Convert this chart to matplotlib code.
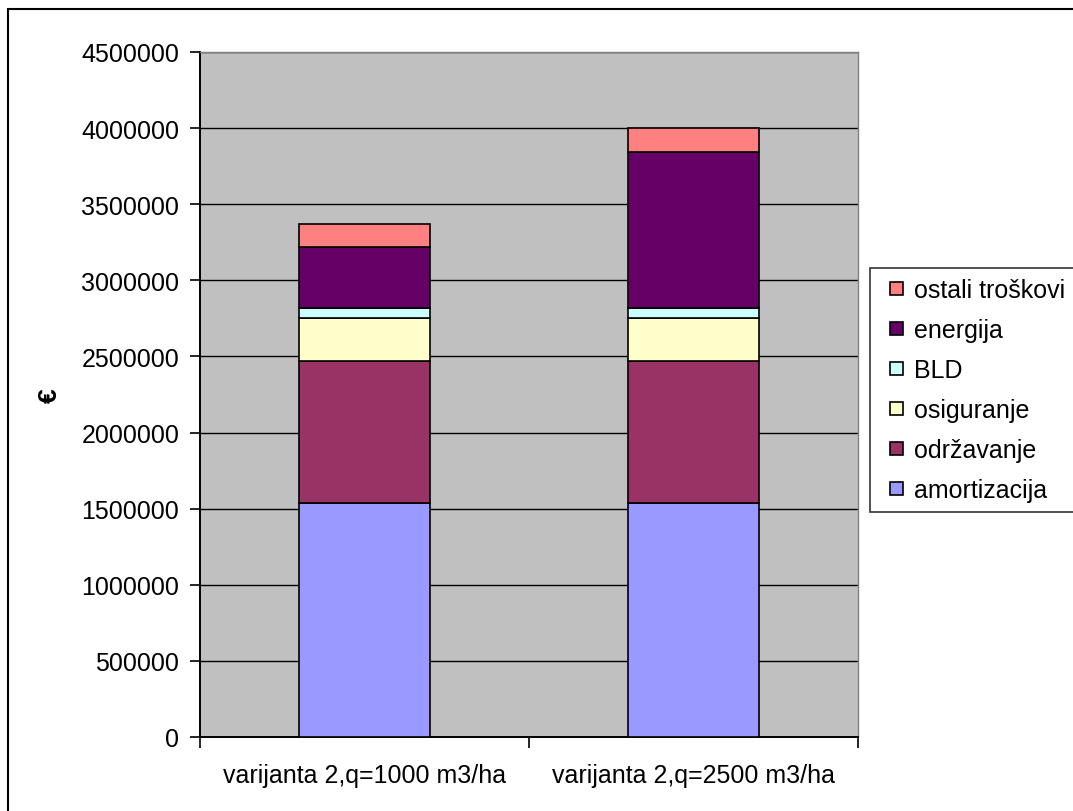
import numpy as np
import matplotlib.pyplot as plt
from matplotlib.patches import Rectangle
from matplotlib.legend_handler import HandlerPatch

plt.rcParams['font.family'] = ['Liberation Sans', 'DejaVu Sans']

categories = ['varijanta 2,q=1000 m3/ha', 'varijanta 2,q=2500 m3/ha']
series_names = ['amortizacija', 'održavanje', 'osiguranje', 'BLD', 'energija', 'ostali troškovi']
amortizacija = [1535000, 1535000]
odrzavanje = [935000, 935000]
osiguranje = [280000, 280000]
bld = [65000, 65000]
energija = [405000, 1025000]
ostali = [147000, 158000]
colors = ['#9999FF', '#993366', '#FFFFCC', '#CCFFFF', '#660066', '#FF8080']

FS = 18

fig = plt.figure(figsize=(10.73, 8.12), dpi=100)
ax = fig.add_axes([200 / 1073, 74 / 812, 658 / 1073, 685 / 812])
ax.set_facecolor('#C0C0C0')

x = np.arange(len(categories))
bottom = np.zeros(len(categories))
for name, vals, col in zip(series_names,
                           [amortizacija, odrzavanje, osiguranje, bld, energija, ostali],
                           colors):
    ax.bar(x, vals, 0.4, bottom=bottom, color=col, edgecolor='black',
           linewidth=1.2, label=name, zorder=3)
    bottom += np.array(vals)

ax.set_xlim(-0.5, 1.5)
ax.set_ylim(0, 4500000)
ax.set_yticks(np.arange(0, 4500001, 500000))
ax.set_yticklabels([str(v) for v in range(0, 4500001, 500000)], fontsize=FS)
ax.yaxis.grid(True, color='black', linewidth=1, zorder=0)
ax.set_axisbelow(True)

# category boundary ticks on x, labels centered under bars
ax.set_xticks([-0.5, 0.5, 1.5])
ax.set_xticklabels([])
ax.set_xticks(x, minor=True)
ax.set_xticklabels(categories, minor=True, fontsize=FS)
ax.tick_params(axis='x', which='minor', length=0, pad=19)
ax.tick_params(axis='x', which='major', length=8, direction='out', width=1.2)
ax.tick_params(axis='y', length=7, direction='out', width=1.2, pad=8)

for s in ['left', 'bottom']:
    ax.spines[s].set_color('black')
    ax.spines[s].set_linewidth(1.4)
for s in ['top', 'right']:
    ax.spines[s].set_color('#808080')
    ax.spines[s].set_linewidth(1)

fig.text(50 / 1073, 1 - 396 / 812, '€', rotation=90, fontsize=FS + 1,
         fontweight='bold', ha='center', va='center')


def small_square(legend, orig_handle, xdescent, ydescent, width, height, fontsize):
    s = 0.52 * fontsize
    return Rectangle((-xdescent + width - s, -ydescent + (height - s) / 2), s, s)


proxies = [Rectangle((0, 0), 1, 1, facecolor=c, edgecolor='black', linewidth=1.2)
           for c in colors]
leg = fig.legend(proxies[::-1], series_names[::-1], loc='upper left',
                 bbox_to_anchor=(870 / 1073, 1 - 269 / 812), fontsize=FS,
                 frameon=True, fancybox=False, edgecolor='black',
                 handlelength=0.9, handleheight=0.7, handletextpad=0.45,
                 labelspacing=0.64, borderpad=0.4, borderaxespad=0,
                 handler_map={Rectangle: HandlerPatch(patch_func=small_square)})
leg.get_frame().set_linewidth(1.2)

# chart border
fig.patches.append(Rectangle((8 / 1073, -0.1), 1.2, 1 - 10 / 812 + 0.1,
                             transform=fig.transFigure, fill=False,
                             edgecolor='black', linewidth=1.5))

fig.savefig('out.png', dpi=100)
